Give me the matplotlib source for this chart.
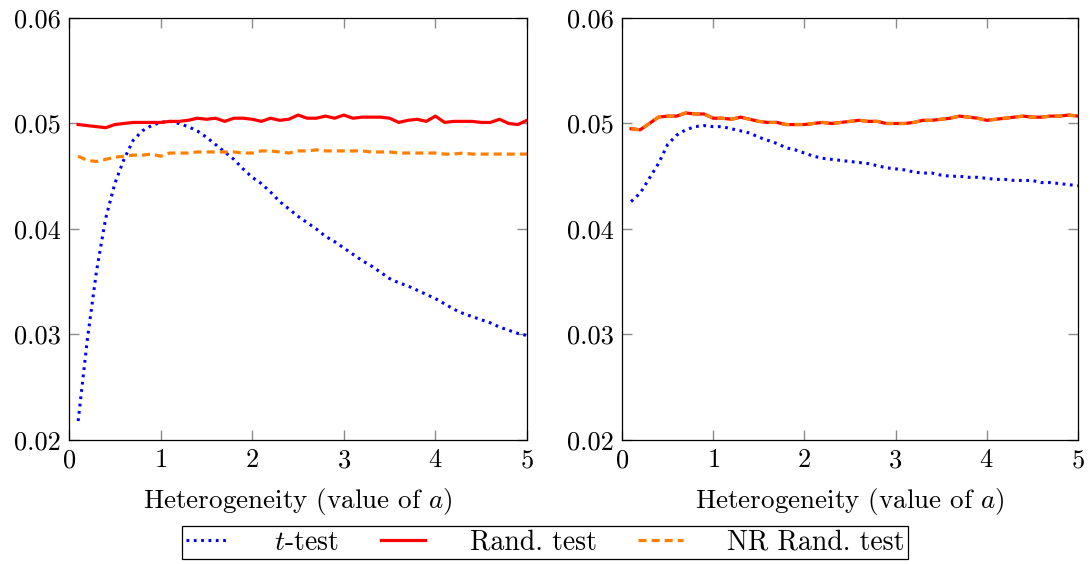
import matplotlib

matplotlib.use("Agg")
import matplotlib.pyplot as plt
import numpy as np

plt.rcParams["font.family"] = "cmr10"
plt.rcParams["mathtext.fontset"] = "cm"
plt.rcParams["axes.formatter.use_mathtext"] = True

a_vals = np.round(np.arange(1, 51) * 0.1, 1)

# left panel
left_t = [0.0218, 0.0295, 0.0360, 0.0410, 0.0443, 0.0466, 0.0484, 0.0493, 0.0498, 0.0501,
          0.0502, 0.0500, 0.0497, 0.0493, 0.0487, 0.0480, 0.0473, 0.0466, 0.0457, 0.0449,
          0.0443, 0.0435, 0.0426, 0.0419, 0.0412, 0.0406, 0.0400, 0.0393, 0.0388, 0.0382,
          0.0376, 0.0370, 0.0365, 0.0359, 0.0353, 0.0349, 0.0346, 0.0342, 0.0338, 0.0334,
          0.0329, 0.0324, 0.0320, 0.0317, 0.0314, 0.0311, 0.0307, 0.0304, 0.0301, 0.0299]
left_rand = [0.0499, 0.0498, 0.0497, 0.0496, 0.0499, 0.0500, 0.0501, 0.0501, 0.0501, 0.0501,
             0.0502, 0.0502, 0.0503, 0.0505, 0.0504, 0.0505, 0.0502, 0.0505, 0.0505, 0.0504,
             0.0502, 0.0505, 0.0503, 0.0504, 0.0508, 0.0505, 0.0505, 0.0507, 0.0505, 0.0508,
             0.0505, 0.0506, 0.0506, 0.0506, 0.0505, 0.0501, 0.0503, 0.0504, 0.0502, 0.0507,
             0.0501, 0.0502, 0.0502, 0.0502, 0.0501, 0.0501, 0.0504, 0.0500, 0.0499, 0.0503]
left_nr = [0.0469, 0.0465, 0.0464, 0.0466, 0.0468, 0.0469, 0.0470, 0.0470, 0.0471, 0.0469,
           0.0472, 0.0472, 0.0472, 0.0473, 0.0473, 0.0473, 0.0473, 0.0473, 0.0472, 0.0472,
           0.0474, 0.0474, 0.0473, 0.0472, 0.0474, 0.0474, 0.0475, 0.0474, 0.0474, 0.0474,
           0.0474, 0.0474, 0.0473, 0.0473, 0.0473, 0.0472, 0.0472, 0.0472, 0.0472, 0.0472,
           0.0471, 0.0471, 0.0472, 0.0471, 0.0471, 0.0471, 0.0471, 0.0471, 0.0471, 0.0471]

# right panel
right_t = [0.0426, 0.0434, 0.0448, 0.0462, 0.0480, 0.0489, 0.0494, 0.0497, 0.0498, 0.0497,
           0.0497, 0.0495, 0.0493, 0.0491, 0.0487, 0.0484, 0.0481, 0.0477, 0.0475, 0.0472,
           0.0469, 0.0467, 0.0466, 0.0465, 0.0464, 0.0463, 0.0462, 0.0460, 0.0458, 0.0457,
           0.0456, 0.0454, 0.0453, 0.0453, 0.0451, 0.0450, 0.0450, 0.0449, 0.0449, 0.0448,
           0.0447, 0.0447, 0.0446, 0.0446, 0.0446, 0.0444, 0.0444, 0.0443, 0.0442, 0.0441]
right_rand = [0.0495, 0.0494, 0.0500, 0.0506, 0.0507, 0.0507, 0.0510, 0.0509, 0.0509, 0.0505,
              0.0505, 0.0504, 0.0506, 0.0504, 0.0502, 0.0501, 0.0501, 0.0499, 0.0499, 0.0499,
              0.0500, 0.0501, 0.0500, 0.0501, 0.0502, 0.0503, 0.0502, 0.0502, 0.0500, 0.0500,
              0.0500, 0.0501, 0.0503, 0.0503, 0.0504, 0.0505, 0.0507, 0.0506, 0.0505, 0.0503,
              0.0504, 0.0505, 0.0506, 0.0507, 0.0506, 0.0506, 0.0507, 0.0507, 0.0508, 0.0507]
right_nr = list(right_rand)

series_labels = [r"$t$-test", "Rand. test", "NR Rand. test"]

fig = plt.figure(figsize=(10.9, 5.64), dpi=100)
ax_l = fig.add_axes([0.0633, 0.2199, 0.4202, 0.7482])
ax_r = fig.add_axes([0.5706, 0.2199, 0.4183, 0.7482])

for ax, t_vals, r_vals, nr_vals in [(ax_l, left_t, left_rand, left_nr),
                                    (ax_r, right_t, right_rand, right_nr)]:
    ax.plot(a_vals, t_vals, color="#0000ff", lw=2.2, linestyle=(0, (0.9, 1.5)),
            label=series_labels[0])
    ax.plot(a_vals, r_vals, color="#ff0000", lw=2.3, label=series_labels[1])
    ax.plot(a_vals, nr_vals, color="#ff7f00", lw=2.3, linestyle=(0, (2.5, 1.6)),
            label=series_labels[2])
    ax.set_xlim(0, 5)
    ax.set_ylim(0.02, 0.06)
    ax.set_xticks(range(6))
    ax.set_yticks([0.02, 0.03, 0.04, 0.05, 0.06])
    ax.set_yticklabels(["0.02", "0.03", "0.04", "0.05", "0.06"])
    ax.tick_params(direction="in", top=True, right=True, length=7, width=1.0,
                   color="#8c8c8c", labelsize=19, pad=6)
    for sp in ax.spines.values():
        sp.set_linewidth(0.9)
    ax.set_xlabel("Heterogeneity (value of $a$)", fontsize=19.5, labelpad=10)

handles, labels = ax_l.get_legend_handles_labels()
fig.legend(handles, labels, loc="center", bbox_to_anchor=(0.5, 0.038), ncol=3,
           fontsize=20, frameon=True, fancybox=False, edgecolor="black",
           handlelength=1.6, handletextpad=1.6, columnspacing=1.5,
           borderpad=0.12, borderaxespad=0, framealpha=1)
fig.legends[0].get_frame().set_linewidth(0.9)

fig.savefig("out.png", dpi=100)
